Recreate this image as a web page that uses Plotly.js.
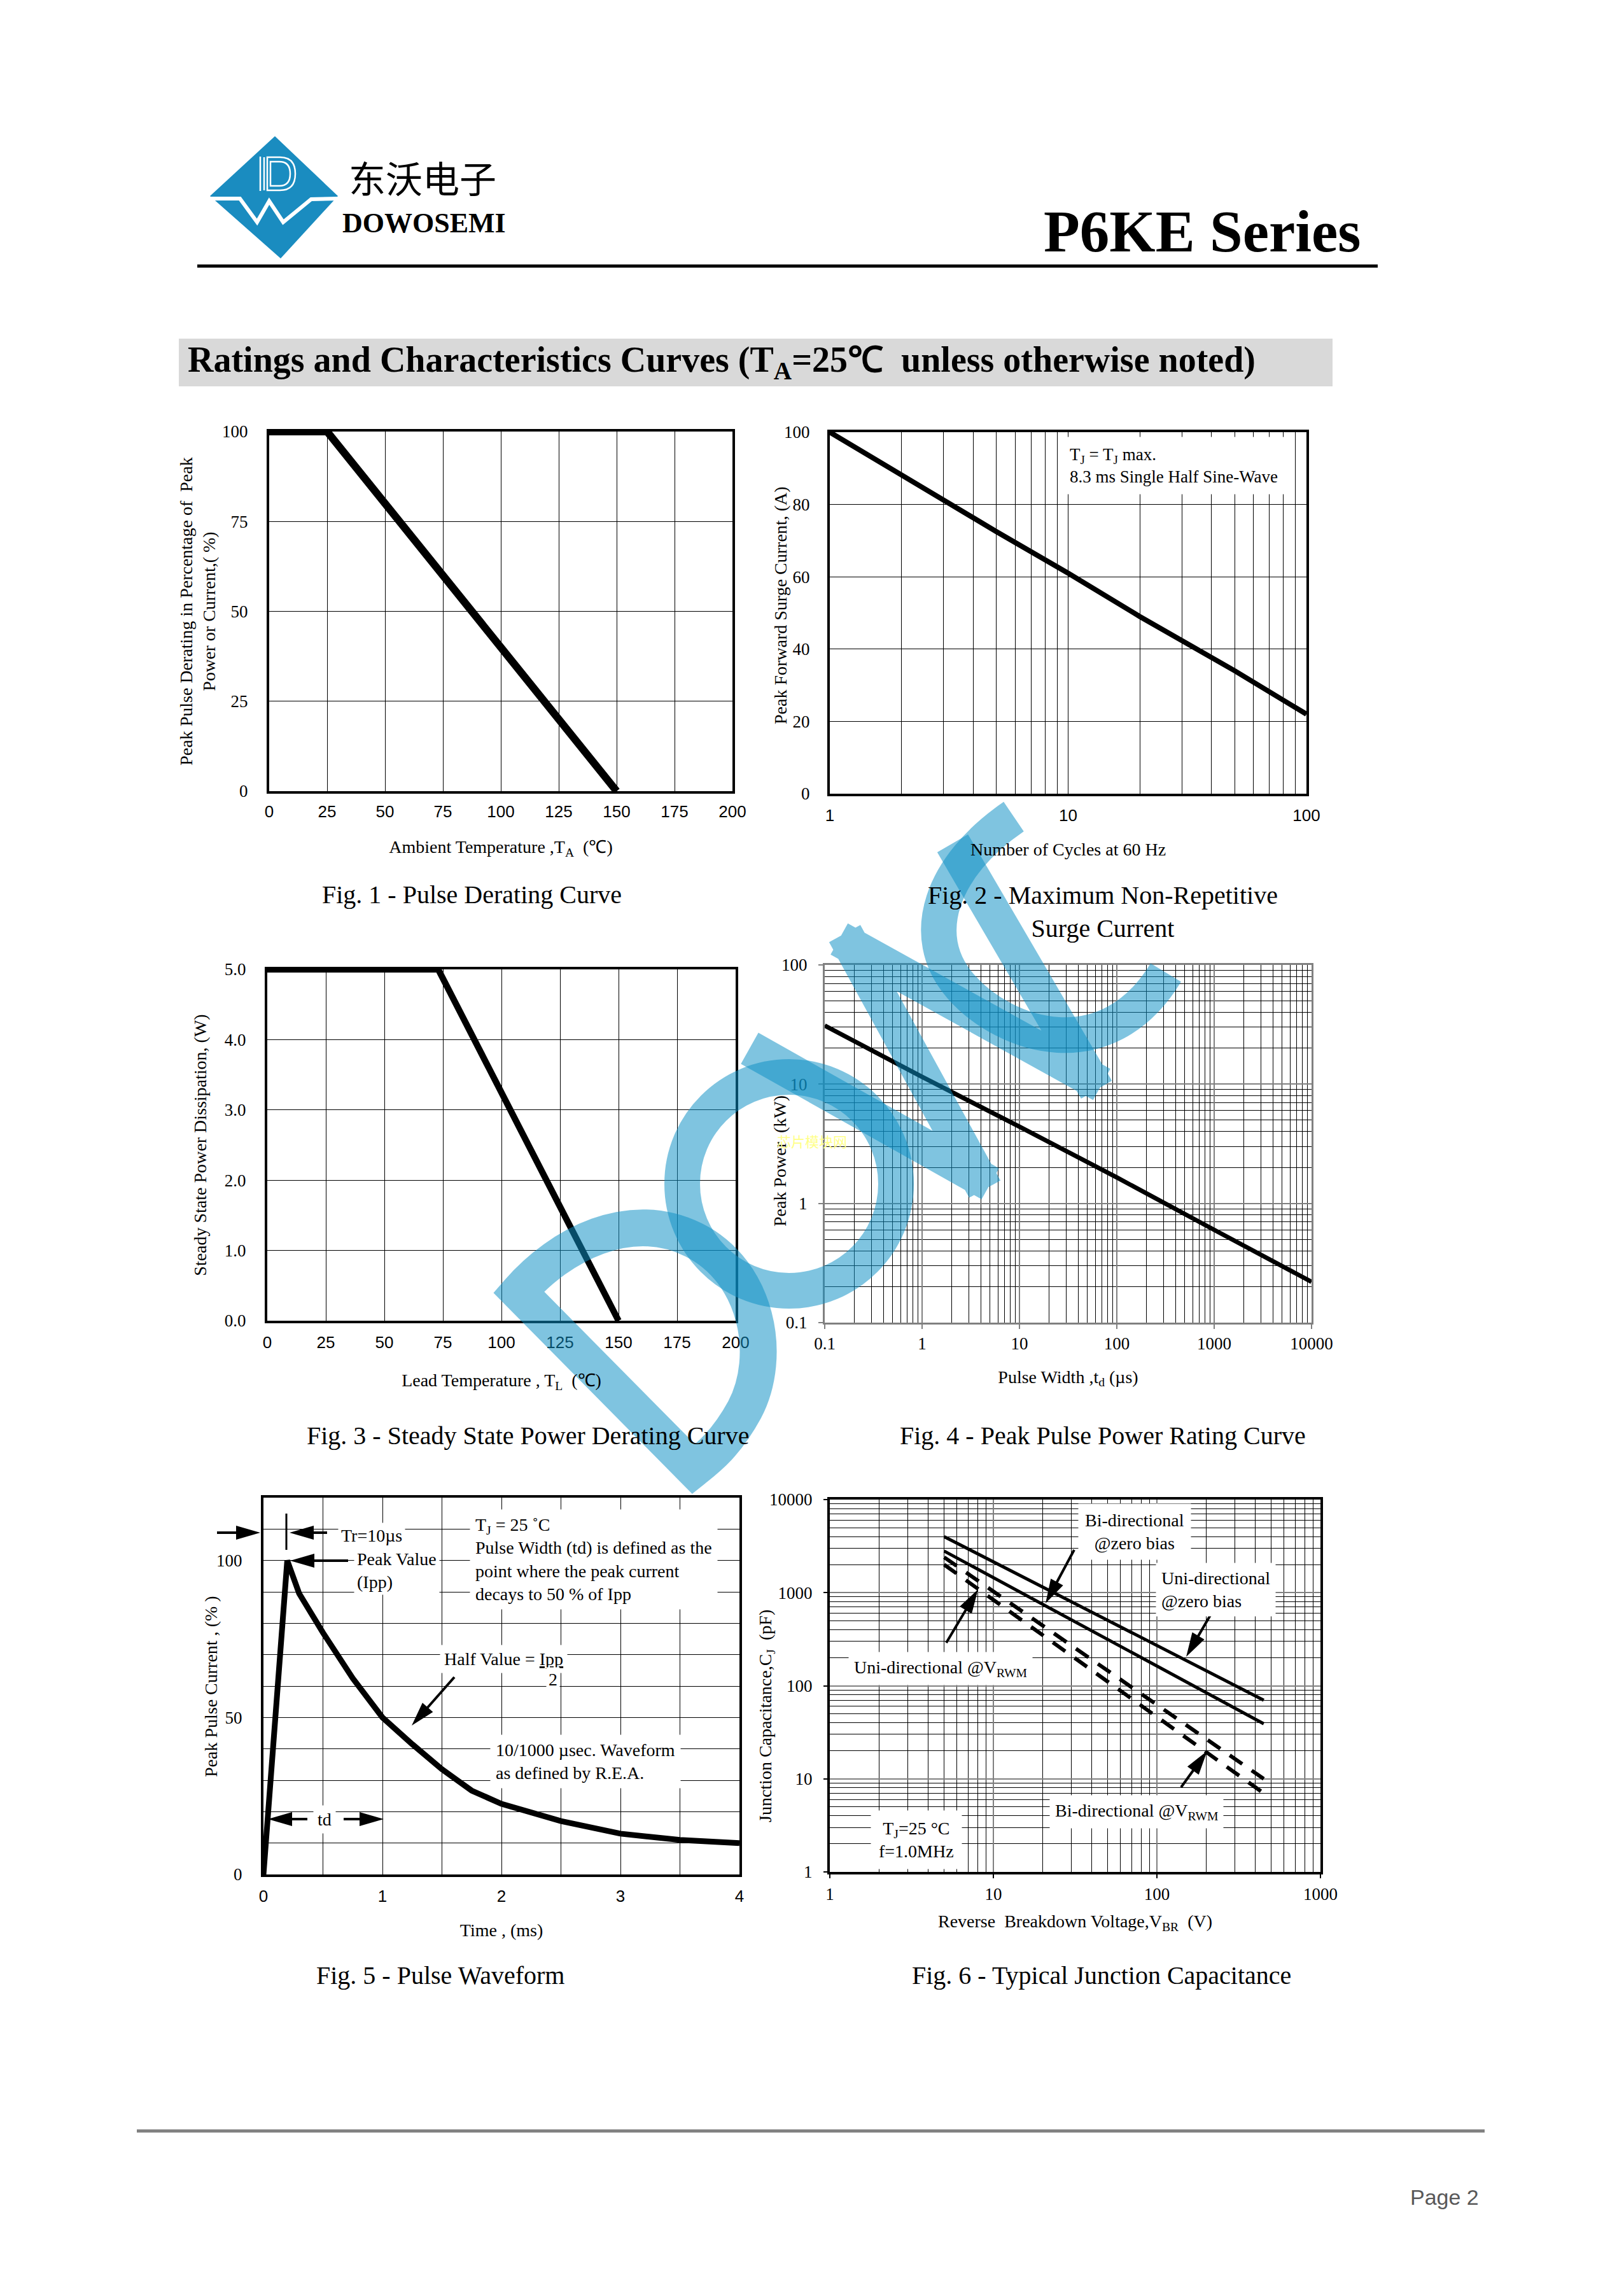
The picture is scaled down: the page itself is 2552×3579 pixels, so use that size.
<!DOCTYPE html>
<html><head><meta charset="utf-8">
<script src="https://cdn.plot.ly/plotly-3.0.1.min.js"></script>
<style>html,body{margin:0;padding:0;background:#fff;}#page{width:2552px;height:3579px;}</style>
</head><body><div id="page"></div>
<script>
// ---------------- data ----------------
const fig1Temp = [0, 25, 150];
const fig1Pct = [100, 100, 0];
const fig2Cycles = [1, 2, 5, 10, 20, 50, 100];
const fig2Current = [100, 88, 72.5, 61, 49, 34, 22];
const fig3Temp = [0, 73, 150];
const fig3Power = [5, 5, 0];
const fig4Width = [0.1, 1, 10, 100, 1000, 10000];
const fig4Power = [31, 11.5, 4.4, 1.65, 0.6, 0.22];
const fig5Time = [0, 0.2, 0.3, 0.4, 0.5, 0.75, 1, 1.25, 1.5, 1.75, 2, 2.5, 3, 3.5, 4];
const fig5Current = [0, 100, 89.5, 83, 77, 62.5, 50, 41.5, 33.5, 26.7, 22.5, 17, 13, 11, 10];
const fig6Voltage = [5, 450];
const fig6UniZero = [4000, 70];
const fig6BiZero = [2800, 39];
const fig6UniVrwm = [2400, 10];
const fig6BiVrwm = [2000, 7];

const fig2TickVals = [1, 10, 100];
const fig2TickText = ['1', '10', '100'];
const fig4XTickVals = [0.1, 1, 10, 100, 1000, 10000];
const fig4XTickText = ['0.1', '1', '10', '100', '1000', '10000'];
const fig4YTickVals = [0.1, 1, 10, 100];
const fig4YTickText = ['0.1', '1', '10', '100'];
const fig6XTickVals = [1, 10, 100, 1000];
const fig6XTickText = ['1', '10', '100', '1000'];
const fig6YTickVals = [1, 10, 100, 1000, 10000];
const fig6YTickText = ['1', '10', '100', '1000', '10000'];
const fig5YTickVals = [0, 50, 100];

// ---------------- helpers ----------------
const W = 2552, H = 3579;
const SERIF = 'Liberation Serif, Times New Roman, serif';
const SANS = 'Liberation Sans, Arial, sans-serif';
const px = x => x / W;
const py = y => 1 - y / H;
const dx = (l, r) => [l / W, r / W];
const dy = (t, b) => [1 - b / H, 1 - t / H];
function minorLog(lo, hi) {
  const v = [];
  for (let e = lo; e < hi; e++) for (let m = 2; m <= 9; m++) v.push(+(m * Math.pow(10, e)).toPrecision(3));
  return v;
}
function ax(o) {
  const base = {
    showline: true, mirror: true, linecolor: '#000', linewidth: 4,
    showgrid: true, gridcolor: '#000', gridwidth: 1, zeroline: false,
    ticks: '', fixedrange: true,
    tickfont: {family: SERIF, size: 27, color: '#000'}
  };
  const r = Object.assign(base, o);
  if (o.titleText !== undefined) {
    r.title = {text: o.titleText, standoff: o.standoff, font: {family: SERIF, size: 28, color: '#000'}};
    delete r.titleText; delete r.standoff;
  }
  return r;
}
function txt(text, x, y, o) {
  o = o || {};
  const a = {xref: 'paper', yref: 'paper', x: px(x), y: py(y), text: text, showarrow: false,
    xanchor: o.xa || 'center', yanchor: o.ya || 'middle', align: o.align || 'center',
    font: {family: o.family || SERIF, size: o.size || 28, color: o.color || '#000'}};
  if (o.angle) a.textangle = o.angle;
  if (o.bg) { a.bgcolor = o.bg; a.borderpad = o.pad || 0; }
  return a;
}
function ov(path, o) {
  return Object.assign({type: 'path', xref: 'x7', yref: 'y7', path: path,
    line: {width: 0}, fillcolor: 'rgba(0,0,0,0)', layer: 'below'}, o);
}
// arrow drawn as shaft + filled head (page pixel coordinates)
function arrow(hx, hy, tx, ty) {
  const L = 38, hw = 11;
  const d = Math.hypot(hx - tx, hy - ty), ux = (hx - tx) / d, uy = (hy - ty) / d;
  const bx = hx - ux * L, by = hy - uy * L, nx = -uy, ny = ux;
  return [
    ov(`M${tx},${ty} L${bx + ux * 2},${by + uy * 2}`, {line: {color: '#000', width: 4}, layer: 'above'}),
    ov(`M${hx},${hy} L${bx + nx * hw},${by + ny * hw} L${bx - nx * hw},${by - ny * hw} Z`, {fillcolor: '#000', layer: 'above'})
  ];
}
// thick stroke polyline split into overlapping straight pieces (flat-cut joints)
function bands(pts, ext) {
  let p = '';
  for (let i = 0; i < pts.length - 1; i++) {
    const [x1, y1] = pts[i], [x2, y2] = pts[i + 1];
    const d = Math.hypot(x2 - x1, y2 - y1), ux = (x2 - x1) / d, uy = (y2 - y1) / d;
    const e1 = i > 0 ? ext : 0, e2 = i < pts.length - 2 ? ext : 0;
    p += `M${x1 - ux * e1},${y1 - uy * e1} L${x2 + ux * e2},${y2 + uy * e2} `;
  }
  return p;
}
function circlePath(cx, cy, r) {
  const k = 0.5523 * r;
  return `M${cx - r},${cy} C${cx - r},${cy - k} ${cx - k},${cy - r} ${cx},${cy - r} ` +
    `C${cx + k},${cy - r} ${cx + r},${cy - k} ${cx + r},${cy} ` +
    `C${cx + r},${cy + k} ${cx + k},${cy + r} ${cx},${cy + r} ` +
    `C${cx - k},${cy + r} ${cx - r},${cy + k} ${cx - r},${cy} Z`;
}

// ---------------- traces ----------------
const black = (w, dash) => ({color: '#000', width: w, dash: dash || 'solid'});
const traces = [
  {x: fig1Temp, y: fig1Pct, xaxis: 'x', yaxis: 'y', mode: 'lines', line: black(12), hoverinfo: 'skip'},
  {x: fig2Cycles, y: fig2Current, xaxis: 'x2', yaxis: 'y2', mode: 'lines', line: black(8), hoverinfo: 'skip'},
  {x: fig3Temp, y: fig3Power, xaxis: 'x3', yaxis: 'y3', mode: 'lines', line: black(10), hoverinfo: 'skip'},
  {x: fig4Width, y: fig4Power, xaxis: 'x4', yaxis: 'y4', mode: 'lines', line: black(7), hoverinfo: 'skip'},
  {x: fig5Time, y: fig5Current, xaxis: 'x5', yaxis: 'y5', mode: 'lines', line: black(9), hoverinfo: 'skip'},
  {x: fig6Voltage, y: fig6UniZero, xaxis: 'x6', yaxis: 'y6', mode: 'lines', line: black(5), hoverinfo: 'skip'},
  {x: fig6Voltage, y: fig6BiZero, xaxis: 'x6', yaxis: 'y6', mode: 'lines', line: black(5), hoverinfo: 'skip'},
  {x: fig6Voltage, y: fig6UniVrwm, xaxis: 'x6', yaxis: 'y6', mode: 'lines', line: black(6, '24px,18px'), hoverinfo: 'skip'},
  {x: fig6Voltage, y: fig6BiVrwm, xaxis: 'x6', yaxis: 'y6', mode: 'lines', line: black(6, '24px,18px'), hoverinfo: 'skip'},
  {x: [], y: [], xaxis: 'x7', yaxis: 'y7', mode: 'lines', hoverinfo: 'skip'}
];

// ---------------- layout ----------------
const minorStyle = (vals) => ({tickmode: 'array', tickvals: vals, showgrid: true, gridcolor: '#000', gridwidth: 1, ticks: ''});
const layout = {
  width: W, height: H, margin: {l: 0, r: 0, t: 0, b: 0, pad: 0},
  paper_bgcolor: '#fff', plot_bgcolor: 'rgba(0,0,0,0)', showlegend: false,
  font: {family: SERIF, color: '#000'},
  // Fig 1
  xaxis: ax({domain: dx(423, 1151), anchor: 'y', range: [0, 200], tick0: 0, dtick: 25,
    tickfont: {family: SANS, size: 26, color: '#000'}, ticklabelstandoff: 6,
    titleText: 'Ambient Temperature ,T<sub>A</sub>  (℃)', standoff: 32}),
  yaxis: ax({domain: dy(678, 1243), anchor: 'x', range: [0, 100], tick0: 0, dtick: 25, ticklabelstandoff: 24,
    titleText: 'Peak Pulse Derating in Percentage of  Peak<br>Power or Current,( %)', standoff: 3}),
  // Fig 2
  xaxis2: ax({domain: dx(1304, 2053), anchor: 'y2', type: 'log', range: [0, 2],
    tickmode: 'array', tickvals: fig2TickVals, ticktext: fig2TickText,
    minor: minorStyle(minorLog(0, 2)),
    tickfont: {family: SANS, size: 26, color: '#000'}, ticklabelstandoff: 8,
    titleText: 'Number of Cycles at 60 Hz', standoff: 30}),
  yaxis2: ax({domain: dy(679, 1247), anchor: 'x2', range: [0, 100], tick0: 0, dtick: 20, ticklabelstandoff: 22}),
  // Fig 3
  xaxis3: ax({domain: dx(420, 1156), anchor: 'y3', range: [0, 200], tick0: 0, dtick: 25,
    tickfont: {family: SANS, size: 26, color: '#000'}, ticklabelstandoff: 8,
    titleText: 'Lead Temperature , T<sub>L</sub>  (℃)', standoff: 36}),
  yaxis3: ax({domain: dy(1523, 2075), anchor: 'x3', range: [0, 5], tick0: 0, dtick: 1, tickformat: '.1f', ticklabelstandoff: 24,
    titleText: 'Steady State Power Dissipation, (W)', standoff: 21}),
  // Fig 4
  xaxis4: ax({domain: dx(1296, 2061), anchor: 'y4', type: 'log', range: [-1, 4],
    tickmode: 'array', tickvals: fig4XTickVals, ticktext: fig4XTickText,
    gridcolor: '#808080', gridwidth: 2, linecolor: '#808080', linewidth: 3,
    ticks: 'outside', ticklen: 7, tickwidth: 2, tickcolor: '#808080', ticklabelstandoff: 0,
    minor: minorStyle(minorLog(-1, 4)),
    titleText: 'Pulse Width ,t<sub>d</sub> (µs)', standoff: 28}),
  yaxis4: ax({domain: dy(1516, 2078), anchor: 'x4', type: 'log', range: [-1, 2],
    tickmode: 'array', tickvals: fig4YTickVals, ticktext: fig4YTickText,
    gridcolor: '#808080', gridwidth: 2, linecolor: '#808080', linewidth: 3,
    ticks: 'outside', ticklen: 7, tickwidth: 2, tickcolor: '#808080', ticklabelstandoff: 12,
    minor: minorStyle(minorLog(-1, 2))}),
  // Fig 5
  xaxis5: ax({domain: dx(414, 1162), anchor: 'y5', range: [0, 4], tick0: 0, dtick: 1,
    minor: {tick0: 0, dtick: 0.5, showgrid: true, gridcolor: '#000', gridwidth: 1, ticks: ''},
    tickfont: {family: SANS, size: 26, color: '#000'}, ticklabelstandoff: 8,
    titleText: 'Time , (ms)', standoff: 30}),
  yaxis5: ax({domain: dy(2353, 2945), anchor: 'x5', range: [0, 120], tickmode: 'array', tickvals: fig5YTickVals,
    minor: {tick0: 0, dtick: 10, showgrid: true, gridcolor: '#000', gridwidth: 1, ticks: ''},
    ticklabelstandoff: 24}),
  // Fig 6
  xaxis6: ax({domain: dx(1304, 2075), anchor: 'y6', type: 'log', range: [0, 3],
    tickmode: 'array', tickvals: fig6XTickVals, ticktext: fig6XTickText,
    gridcolor: '#808080', gridwidth: 2,
    ticks: 'outside', ticklen: 6, tickwidth: 2, tickcolor: '#000', ticklabelstandoff: 2,
    minor: minorStyle(minorLog(0, 3)),
    titleText: 'Reverse  Breakdown Voltage,V<sub>BR</sub>  (V)', standoff: 19}),
  yaxis6: ax({domain: dy(2356, 2941), anchor: 'x6', type: 'log', range: [0, 4],
    tickmode: 'array', tickvals: fig6YTickVals, ticktext: fig6YTickText,
    gridcolor: '#808080', gridwidth: 2,
    ticks: 'outside', ticklen: 6, tickwidth: 2, tickcolor: '#000', ticklabelstandoff: 12,
    minor: minorStyle(minorLog(0, 4))}),
  // page overlay in pixel units
  xaxis7: {domain: [0, 1], range: [0, W], visible: false, fixedrange: true, anchor: 'y7'},
  yaxis7: {domain: [0, 1], range: [H, 0], visible: false, fixedrange: true, anchor: 'x7'}
};

// ---------------- shapes (page decoration) ----------------
const WM = 'rgba(14,144,197,0.53)';
layout.shapes = [
  // logo
  ov('M432,214 L531,308 L441,406 L330,308 Z', {fillcolor: '#1a8cc0'}),
  ov('M330,312 L377,312 L404,349 L423,316 L445,349 L489,313 L531,312', {line: {color: '#fff', width: 6}}),
  ov('M409,246 L409,300 M415,247 L415,299 M420,247 L440,247 Q464,247 464,273 Q464,299 440,299 L420,299 Z M425,254 L439,254 Q456,254 456,273 Q456,292 439,292 L425,292 Z',
     {line: {color: '#fff', width: 2.5}}),
  // header rule, title band, footer rule
  ov('M310,418 L2165,418', {line: {color: '#000', width: 5}}),
  ov('M281,532 L2094,532 L2094,607 L281,607 Z', {fillcolor: '#d9d9d9'}),
  ov('M215,3348 L2333,3348', {line: {color: '#808080', width: 5}}),
  // Fig 5 rise-time marker
  ov('M450,2378 L450,2435', {line: {color: '#000', width: 3}, layer: 'above'}),
  // Fig 5 arrows
  ...arrow(409, 2408, 341, 2408),
  ...arrow(455, 2408, 514, 2408),
  ...arrow(456, 2452, 547, 2452),
  ...arrow(647, 2711, 714, 2635),
  ...arrow(421, 2858, 483, 2858),
  ...arrow(603, 2858, 540, 2858),
  // Fig 6 arrows
  ...arrow(1643, 2519, 1688, 2435),
  ...arrow(1864, 2603, 1907, 2529),
  ...arrow(1537, 2497, 1487, 2581),
  ...arrow(1897, 2751, 1856, 2808),
  // watermark
  ov('M1090,2308 L815,2030 C880,1955 990,1898 1090,1948 C1190,1998 1215,2130 1170,2215 C1140,2270 1110,2292 1090,2308 Z', {line: {color: WM, width: 58}, layer: 'above'}),
  ov(circlePath(1240, 1860, 168), {line: {color: WM, width: 56}, layer: 'above'}),
  ov(bands([[1178, 1647], [1537, 1849], [1338, 1486], [1712, 1693], [1497, 1325]], 22), {line: {color: WM, width: 56}, layer: 'above'}),
  ov('M1593,1283 C1480,1360 1440,1470 1510,1550 C1580,1630 1740,1680 1832,1528', {line: {color: WM, width: 56}, layer: 'above'})
];

// ---------------- annotations ----------------
layout.annotations = [
  // header
  txt('东沃电子', 546, 278, {xa: 'left', family: 'Noto Sans CJK SC', size: 58}),
  txt('<b>DOWOSEMI</b>', 536, 351, {xa: 'left', size: 44}),
  txt('<b>P6KE Series</b>', 2141, 364, {xa: 'right', size: 93}),
  txt('<b>Ratings and Characteristics Curves (T<sub>A</sub>=25℃  unless otherwise noted)</b>', 293, 569, {xa: 'left', size: 56}),
  txt('Page 2', 2326, 3452, {xa: 'right', family: SANS, size: 34, color: '#595959'}),
  // y-axis titles placed beside their tick labels
  txt('Peak Forward Surge Current, (A)', 1226, 951, {angle: -90}),
  txt('Peak Power  (kW)', 1225, 1824, {angle: -90}),
  txt('Peak Pulse Current , (% )', 331, 2650, {angle: -90}),
  txt('Junction Capacitance,C<sub>J</sub>  (pF)', 1204, 2696, {angle: -90}),
  // captions
  txt('Fig. 1 - Pulse Derating Curve', 741, 1405, {size: 40}),
  txt('Fig. 2 - Maximum Non-Repetitive<br>Surge Current', 1733, 1432, {size: 40}),
  txt('Fig. 3 - Steady State Power Derating Curve', 829, 2255, {size: 40}),
  txt('Fig. 4 - Peak Pulse Power Rating Curve', 1733, 2255, {size: 40}),
  txt('Fig. 5 - Pulse Waveform', 692, 3103, {size: 40}),
  txt('Fig. 6 - Typical Junction Capacitance', 1731, 3103, {size: 40}),
  // Fig 2 note
  txt('T<sub>J</sub> = T<sub>J</sub> max.<br>8.3 ms Single Half Sine-Wave', 1668, 731, {xa: 'left', align: 'left', size: 27, bg: '#fff', pad: 12}),
  // Fig 4 faint mark
  txt('芯片模块网', 1276, 1792, {family: 'Noto Sans CJK SC', size: 22, color: '#ffff88'}),
  // Fig 5 notes
  txt('Tr=10µs', 531, 2412, {xa: 'left', bg: '#fff', pad: 4}),
  txt('Peak Value<br>(Ipp)', 556, 2467, {xa: 'left', align: 'left', bg: '#fff', pad: 4}),
  txt('T<sub>J</sub> = 25 ˚C<br>Pulse Width (td) is defined as the<br>point where the peak current<br>decays to 50 % of Ipp', 738, 2450, {xa: 'left', align: 'left', bg: '#fff', pad: 8}),
  txt('Half Value = <span style="text-decoration:underline">Ipp</span>', 691, 2606, {xa: 'left', bg: '#fff', pad: 6}),
  txt('2', 869, 2638, {bg: '#fff', pad: 3}),
  txt('10/1000 µsec. Waveform<br>as defined by R.E.A.', 770, 2767, {xa: 'left', align: 'left', bg: '#fff', pad: 8}),
  txt('td', 510, 2858, {bg: '#fff', pad: 6}),
  // Fig 6 notes
  txt('Bi-directional<br>@zero bias', 1783, 2406, {bg: '#fff', pad: 10}),
  txt('Uni-directional<br>@zero bias', 1816, 2497, {xa: 'left', align: 'left', bg: '#fff', pad: 8}),
  txt('Uni-directional @V<sub>RWM</sub>', 1478, 2621, {bg: '#fff', pad: 8}),
  txt('Bi-directional @V<sub>RWM</sub>', 1786, 2846, {bg: '#fff', pad: 8}),
  txt('T<sub>J</sub>=25 °C<br>f=1.0MHz', 1440, 2890, {bg: '#fff', pad: 12})
];

Plotly.newPlot('page', traces, layout, {staticPlot: true, displayModeBar: false});
</script></body></html>
